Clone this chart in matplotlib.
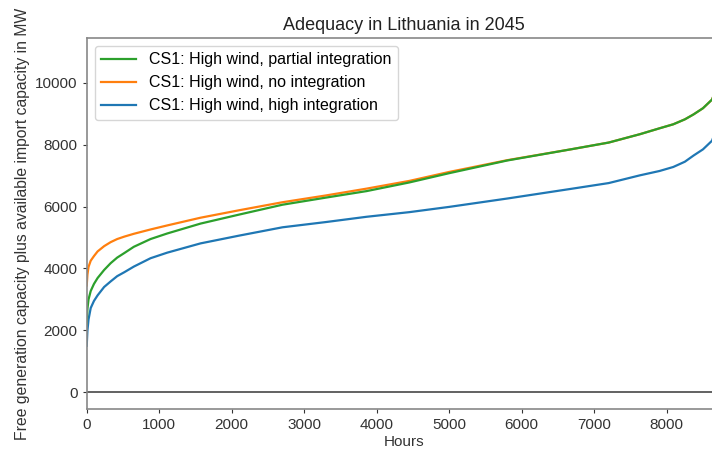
import matplotlib.pyplot as plt

plt.rcParams['font.family'] = ['Liberation Sans', 'DejaVu Sans']

# duration curves (hours sorted by free capacity)
heures = [0, 10, 25, 55, 100, 150, 240, 330, 420, 520, 650, 880, 1110, 1570,
          2100, 2700, 3300, 3860, 4450, 5000, 5800, 6700, 7200, 7630, 7900,
          8090, 8250, 8370, 8500, 8625, 8700, 8760]

partielle = [2200, 2700, 3000, 3270, 3500, 3690, 3950, 4170, 4350, 4500, 4700,
             4950, 5130, 5450, 5740, 6060, 6290, 6500, 6780, 7080, 7490, 7860,
             8070, 8340, 8530, 8660, 8820, 8980, 9180, 9460, 9900, 10900]

aucune = [3450, 3800, 4050, 4250, 4400, 4550, 4720, 4850, 4950, 5030, 5120,
          5260, 5390, 5640, 5880, 6140, 6360, 6580, 6830, 7120, 7500, 7860,
          8070, 8340, 8530, 8660, 8820, 8980, 9180, 9460, 9900, 10900]

haute = [1500, 2000, 2350, 2720, 2950, 3130, 3400, 3580, 3750, 3880, 4060,
         4330, 4510, 4810, 5060, 5330, 5500, 5670, 5820, 5990, 6260, 6580,
         6760, 7010, 7150, 7280, 7450, 7650, 7850, 8130, 8600, 9500]

labels = ["CS1: High wind, partial integration",
          "CS1: High wind, no integration",
          "CS1: High wind, high integration"]

fig = plt.figure(figsize=(7.12, 4.53), dpi=100)
# axes run a little past the right edge, as in the cropped original
ax = fig.add_axes([0.1218, 0.0971, 0.892, 0.819])

l_haute, = ax.plot(heures, haute, color='#1f77b4', lw=1.6)
l_aucune, = ax.plot(heures, aucune, color='#ff7f0e', lw=1.6)
l_part, = ax.plot(heures, partielle, color='#2ca02c', lw=1.6)
ax.axhline(0, color='#555555', lw=1.3)

ax.set_xlim(0, 8760)
ax.set_ylim(-545, 11450)
ax.set_xticks([0, 1000, 2000, 3000, 4000, 5000, 6000, 7000, 8000])
ax.set_yticks([0, 2000, 4000, 6000, 8000, 10000])

ax.set_title("Adequacy in Lithuania in 2045", fontsize=13, color='#222222')
ax.set_xlabel("Hours", fontsize=11, color='#333333', labelpad=2)
ax.set_ylabel("Free generation capacity plus available import capacity in MW",
              fontsize=11.3, color='#333333')
ax.tick_params(labelsize=11, colors='#333333', length=3, width=0.8)
for s in ax.spines.values():
    s.set_color('#888888')
    s.set_linewidth(1.2)

ax.legend([l_part, l_aucune, l_haute], labels, loc='upper left', fontsize=11.5,
          frameon=True, edgecolor='#cccccc', handlelength=2.2)

plt.savefig("out.png")
